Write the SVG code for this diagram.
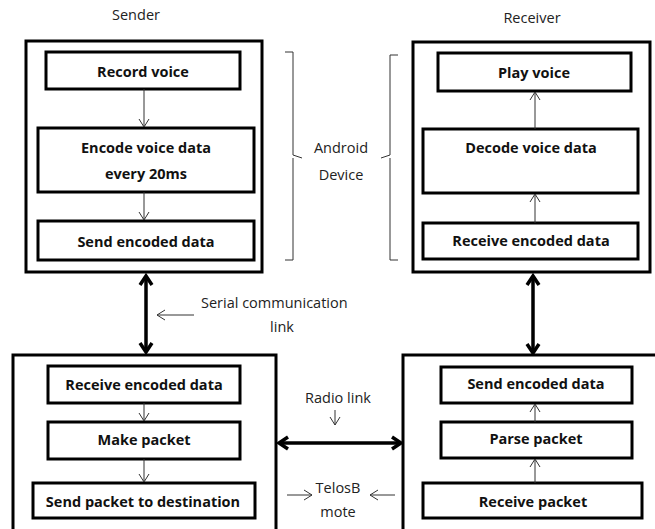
<svg xmlns="http://www.w3.org/2000/svg" width="655" height="529" viewBox="0 0 655 529">
<defs>
<style>
.frame{fill:#fff;stroke:#000;stroke-width:3}
.box{fill:#fff;stroke:#000;stroke-width:3}
.bt{font-family:"Open Sans","Noto Sans",sans-serif;font-weight:bold;font-size:14.5px;text-anchor:middle;fill:#111}
.lt{font-family:"Open Sans","Noto Sans",sans-serif;font-size:14.5px;fill:#222}
.thin{stroke:#333;stroke-width:1;fill:none}
.thick{stroke:#000;stroke-width:3.5;fill:none}
</style>
<marker id="v" markerWidth="12" markerHeight="12" refX="10" refY="6" orient="auto" markerUnits="userSpaceOnUse">
<path d="M2,1 L10,6 L2,11" fill="none" stroke="#333" stroke-width="1"/>
</marker>
<marker id="V" markerWidth="16" markerHeight="16" refX="12" refY="8" orient="auto-start-reverse" markerUnits="userSpaceOnUse">
<path d="M3,2 L12,8 L3,14" fill="none" stroke="#000" stroke-width="3.5"/>
</marker>
</defs>
<rect width="655" height="529" fill="#fff"/>

<text class="lt" x="136" y="20" text-anchor="middle">Sender</text>
<text class="lt" x="532" y="23" text-anchor="middle">Receiver</text>

<g id="sender-phone">
<rect class="frame" x="26" y="41" width="236" height="231"/>
</g>
<g id="record-voice"><rect class="box" x="46" y="52" width="194" height="37"/><text class="bt" x="143" y="77">Record voice</text></g>
<g id="encode-voice"><rect class="box" x="38" y="128" width="216" height="64"/><text class="bt" x="146" y="153">Encode voice data</text><text class="bt" x="146" y="179">every 20ms</text></g>
<g id="send-encoded"><rect class="box" x="38" y="221" width="216" height="39"/><text class="bt" x="146" y="247">Send encoded data</text></g>

<g id="receiver-phone">
<rect class="frame" x="413" y="42" width="237" height="230"/>
</g>
<g id="play-voice"><rect class="box" x="438" y="53" width="193" height="38"/><text class="bt" x="534" y="78">Play voice</text></g>
<g id="decode-voice"><rect class="box" x="423" y="129" width="215" height="64"/><text class="bt" x="531" y="153">Decode voice data</text></g>
<g id="receive-encoded"><rect class="box" x="423" y="223" width="215" height="36"/><text class="bt" x="531" y="246">Receive encoded data</text></g>

<g id="sender-mote">
<rect class="frame" x="13" y="355" width="263" height="185"/>
</g>
<g id="mote-receive"><rect class="box" x="48" y="366" width="192" height="37"/><text class="bt" x="144" y="390">Receive encoded data</text></g>
<g id="make-packet"><rect class="box" x="48" y="422" width="192" height="37"/><text class="bt" x="144" y="445">Make packet</text></g>
<g id="send-packet"><rect class="box" x="33" y="483" width="222" height="35"/><text class="bt" x="143" y="507">Send packet to destination</text></g>

<g id="receiver-mote">
<rect class="frame" x="403" y="355" width="270" height="185"/>
</g>
<g id="mote-send"><rect class="box" x="441" y="367" width="191" height="36"/><text class="bt" x="536" y="389">Send encoded data</text></g>
<g id="parse-packet"><rect class="box" x="441" y="422" width="191" height="36"/><text class="bt" x="536" y="444">Parse packet</text></g>
<g id="receive-packet"><rect class="box" x="423" y="483" width="219" height="35"/><text class="bt" x="533" y="507">Receive packet</text></g>

<g id="android-label">
<path class="thin" d="M285,52 L293,52 L293,155 L302,158 M293,158 L293,260 L285,260"/>
<path class="thin" d="M398,55 L390,55 L390,155 L381,158 M390,158 L390,260 L398,260"/>
<text class="lt" x="341" y="153" text-anchor="middle">Android</text>
<text class="lt" x="341" y="180" text-anchor="middle">Device</text>
</g>

<g id="annotations">
<text class="lt" x="201" y="308">Serial communication</text>
<text class="lt" x="282" y="332" text-anchor="middle">link</text>
<text class="lt" x="338" y="403" text-anchor="middle">Radio link</text>
<text class="lt" x="338" y="493" text-anchor="middle">TelosB</text>
<text class="lt" x="338" y="517" text-anchor="middle">mote</text>
</g>

<g id="connectors">
<line class="thin" x1="144" y1="89" x2="144" y2="127" marker-end="url(#v)"/>
<line class="thin" x1="144" y1="192" x2="144" y2="220" marker-end="url(#v)"/>
<line class="thin" x1="535" y1="129" x2="535" y2="92" marker-end="url(#v)"/>
<line class="thin" x1="535" y1="223" x2="535" y2="194" marker-end="url(#v)"/>
<line class="thin" x1="144" y1="403" x2="144" y2="421" marker-end="url(#v)"/>
<line class="thin" x1="144" y1="459" x2="144" y2="482" marker-end="url(#v)"/>
<line class="thin" x1="535" y1="422" x2="535" y2="404" marker-end="url(#v)"/>
<line class="thin" x1="535" y1="483" x2="535" y2="459" marker-end="url(#v)"/>
<line class="thick" x1="146" y1="276" x2="146" y2="352" marker-start="url(#V)" marker-end="url(#V)"/>
<line class="thick" x1="533" y1="276" x2="533" y2="353" marker-start="url(#V)" marker-end="url(#V)"/>
<line class="thick" x1="279" y1="443" x2="401" y2="443" marker-start="url(#V)" marker-end="url(#V)"/>
<line class="thin" x1="194" y1="315" x2="157" y2="315" marker-end="url(#v)"/>
<line class="thin" x1="335" y1="410" x2="335" y2="425" marker-end="url(#v)"/>
<line class="thin" x1="287" y1="495" x2="312" y2="495" marker-end="url(#v)"/>
<line class="thin" x1="395" y1="495" x2="370" y2="495" marker-end="url(#v)"/>
</g>
</svg>
